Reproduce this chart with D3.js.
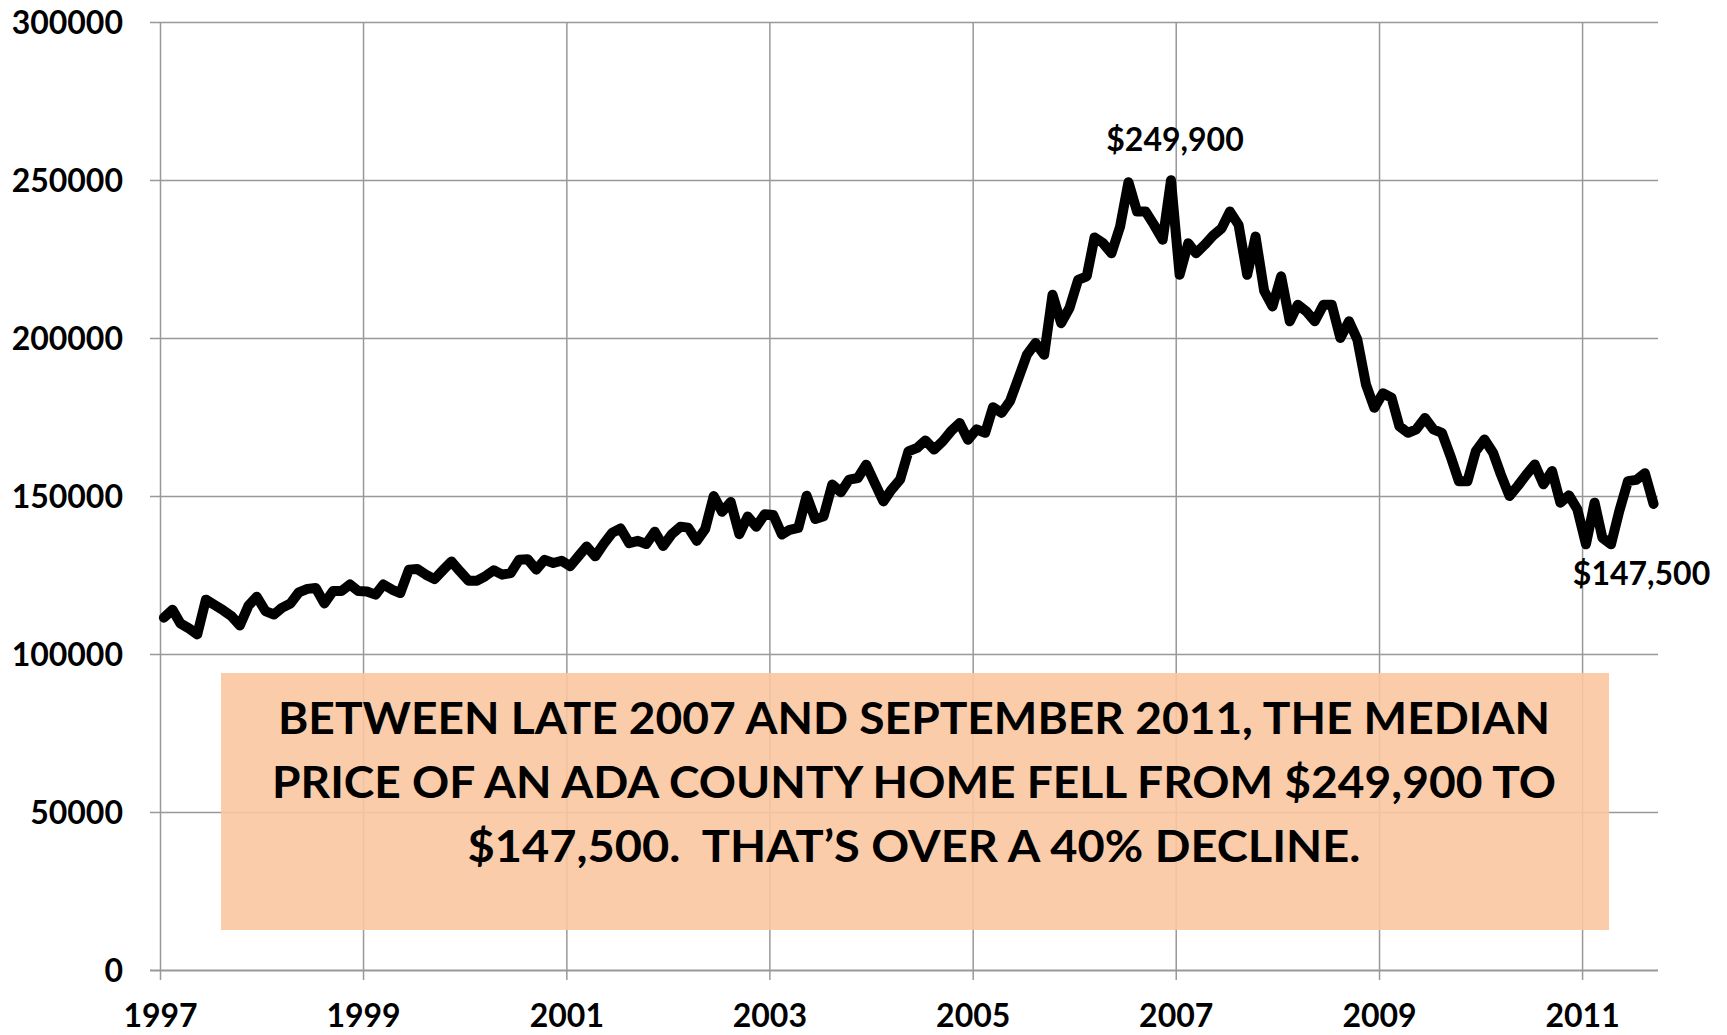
<!DOCTYPE html>
<html>
<head>
<meta charset="utf-8">
<script src="https://cdn.jsdelivr.net/npm/d3@7"></script>
<style>
  html, body { margin: 0; padding: 0; background: #fff; }
  svg { display: block; font-family: Lato, "Open Sans", sans-serif; font-weight: 700; }
</style>
</head>
<body>
<svg width="1727" height="1035"></svg>
<script>

// x axis years shown, y axis ticks
var yearTicks = [1997, 1999, 2001, 2003, 2005, 2007, 2009, 2011];
var priceTicks = [0, 50000, 100000, 150000, 200000, 250000, 300000];

// monthly median price, Jan 1997 .. Sep 2011
var firstMonth = new Date(1997, 0, 15);
var medianPrice = [
  111500, 114000, 109700, 108100, 106200, 117200, 115600, 113900, 112000, 109000, 115300, 118100, // 1997
  113600, 112500, 114600, 116000, 119500, 120600, 120900, 116000, 119900, 119900, 122000, 119900, // 1998
  119800, 118800, 122000, 120400, 119300, 126700, 126900, 125100, 123700, 126500, 129300, 126200, // 1999
  123200, 123200, 124600, 126500, 125100, 125600, 129800, 130000, 126700, 129800, 128800, 129500, // 2000
  127800, 131100, 134000, 130900, 134800, 138400, 139700, 135100, 135800, 134800, 138700, 134200, // 2001
  137900, 140300, 140000, 135800, 139500, 150000, 145000, 148100, 137900, 143500, 140300, 144200, // 2002
  144000, 137800, 139300, 139900, 150100, 142700, 143600, 153600, 151200, 155200, 155700, 159900, // 2003
  154100, 148300, 152000, 155200, 164100, 165200, 167600, 164700, 167300, 170500, 173100, 167800, // 2004
  171100, 170000, 178100, 176300, 180000, 187400, 194700, 198400, 194700, 213700, 204700, 209500, // 2005
  218400, 219500, 231800, 230000, 226800, 235300, 249300, 240000, 240000, 235800, 231100, 249900, // 2006
  220000, 230000, 226800, 229500, 232400, 234700, 240000, 235800, 220000, 232100, 214900, 210000, // 2007
  219500, 205300, 210500, 208400, 205300, 210500, 210500, 200000, 205300, 199500, 185300, 177900, // 2008
  182500, 181100, 172100, 170000, 171100, 174700, 171100, 170000, 162600, 154700, 154700, 164200, // 2009
  167900, 163700, 156800, 150000, 153200, 156800, 160000, 153700, 157900, 147900, 150200, 145800, // 2010
  134700, 147900, 136800, 134700, 145300, 154700, 155100, 157200, 147500                          // 2011
];

var peakText = "$249,900";
var lastText = "$147,500";
var noteLines = [
  "BETWEEN LATE 2007 AND SEPTEMBER 2011, THE MEDIAN",
  "PRICE OF AN ADA COUNTY HOME FELL FROM $249,900 TO",
  "$147,500.  THAT\u2019S OVER A 40% DECLINE."
];
var noteWidths = [1272, 1284, 893];

var svg = d3.select('svg'),
    plotLeft = 160, plotRight = 1658,
    plotTop = 22, plotBottom = 970;

var x = d3.scaleTime()
    .domain([new Date(1997, 0, 1), new Date(2011, 9, 1)])
    .range([plotLeft, plotRight]);

var y = d3.scaleLinear()
    .domain([0, 300000])
    .range([plotBottom, plotTop]);

var data = medianPrice.map(function(v, i) {
  return { date: d3.timeMonth.offset(firstMonth, i), value: v };
});

svg.append("rect")
    .attr("width", 1727)
    .attr("height", 1035)
    .attr("fill", "#fff");

// y grid + labels
var yAxis = svg.append("g")
    .attr("transform", "translate(" + plotLeft + ",0)")
    .call(d3.axisLeft(y)
      .tickValues(priceTicks)
      .tickSize(-(plotRight - plotLeft))
      .tickSizeOuter(0)
      .tickFormat(d3.format("d")));

yAxis.select(".domain").remove();
yAxis.selectAll(".tick line")
    .attr("x1", -10)
    .attr("stroke", "#999")
    .attr("stroke-width", function(d) { return d === 0 ? 2.2 : 1.5; });
yAxis.selectAll(".tick text")
    .attr("x", -37)
    .attr("dy", 11.5)
    .attr("fill", "#000")
    .style("font-size", "32px")
    .style("font-family", "Lato, 'Open Sans', sans-serif")
    .style("font-weight", 700);

// x grid + labels
var xAxis = svg.append("g")
    .attr("transform", "translate(0," + plotBottom + ")")
    .call(d3.axisBottom(x)
      .tickValues(yearTicks.map(function(yr) { return new Date(yr, 0, 1); }))
      .tickSize(10)
      .tickSizeOuter(0)
      .tickFormat(d3.timeFormat("%Y")));

xAxis.select(".domain").remove();
xAxis.selectAll(".tick line")
    .attr("y1", -(plotBottom - plotTop))
    .attr("y2", 10)
    .attr("stroke", "#999")
    .attr("stroke-width", 1.5);
xAxis.selectAll(".tick text")
    .attr("y", 57)
    .attr("dy", 0)
    .attr("fill", "#000")
    .style("font-size", "32px")
    .style("font-family", "Lato, 'Open Sans', sans-serif")
    .style("font-weight", 700);

// note box
svg.append("rect")
    .attr("x", 221)
    .attr("y", 673)
    .attr("width", 1388)
    .attr("height", 257)
    .attr("fill", "#F9C6A0")
    .attr("fill-opacity", 0.9);

svg.append("g")
    .selectAll("text")
    .data(noteLines)
    .enter().append("text")
      .attr("x", 914)
      .attr("y", function(d, i) { return 734 + i * 64; })
      .attr("text-anchor", "middle")
      .attr("textLength", function(d, i) { return noteWidths[i]; })
      .attr("lengthAdjust", "spacingAndGlyphs")
      .style("white-space", "pre")
      .style("font-size", "44px")
      .attr("fill", "#000")
      .text(function(d) { return d; });

// price line
var line = d3.line()
    .x(function(d) { return x(d.date); })
    .y(function(d) { return y(d.value); });

svg.append("path")
    .datum(data)
    .attr("fill", "none")
    .attr("stroke", "#000")
    .attr("stroke-width", 10)
    .attr("stroke-linejoin", "round")
    .attr("stroke-linecap", "round")
    .attr("d", line);

// labels for peak and last value
var peak = data[d3.maxIndex(data, function(d) { return d.value; })];
var last = data[data.length - 1];

svg.append("text")
    .attr("x", x(peak.date) + 4)
    .attr("y", y(peak.value) - 29)
    .attr("text-anchor", "middle")
    .style("font-size", "32px")
    .text(peakText);

svg.append("text")
    .attr("x", x(last.date) - 12)
    .attr("y", y(last.value) + 81)
    .attr("text-anchor", "middle")
    .style("font-size", "32px")
    .text(lastText);

</script>
</body>
</html>
